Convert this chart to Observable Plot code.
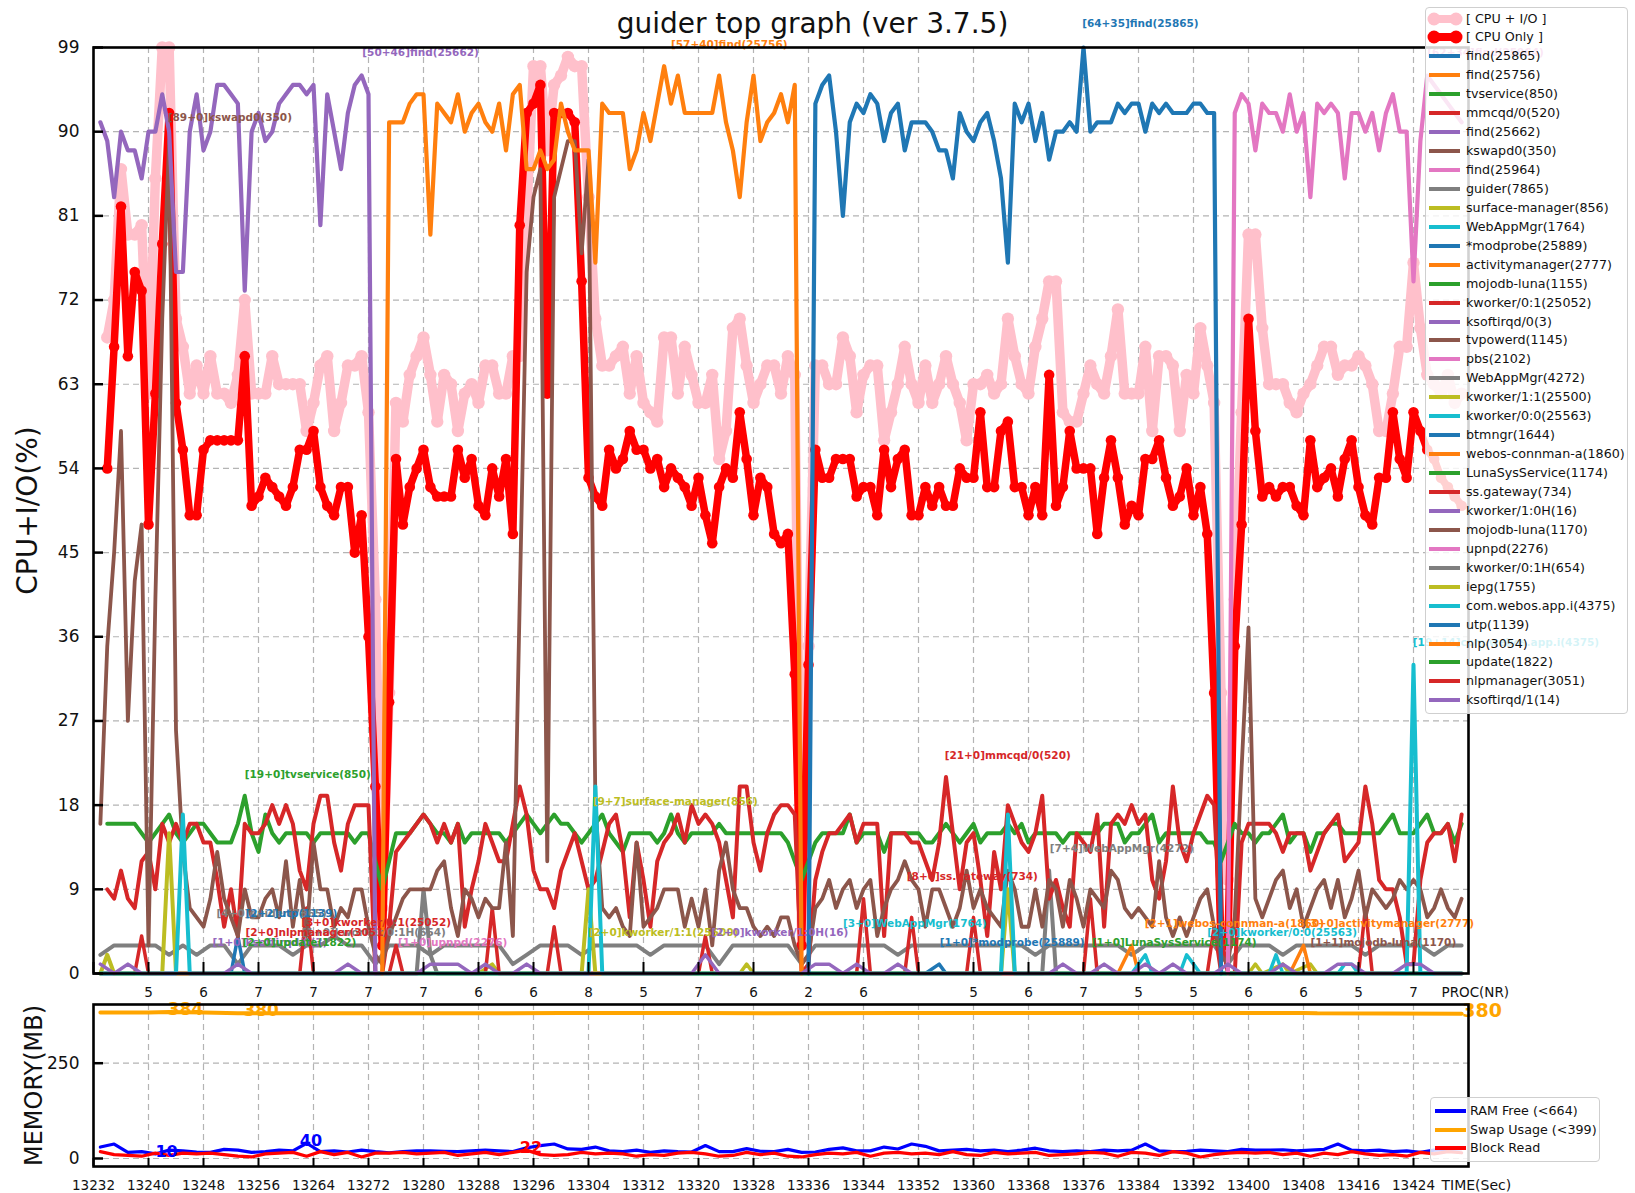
<!DOCTYPE html>
<html><head><meta charset="utf-8">
<script src="https://cdn.jsdelivr.net/npm/d3@7"></script>
<script src="https://cdn.jsdelivr.net/npm/@observablehq/plot@0.6"></script>
<style>
body{margin:0;background:#fff;font-family:"DejaVu Sans",sans-serif;}
#fig{position:relative;width:1635px;height:1193px;overflow:hidden;background:#fff;}
#fig svg.plotsvg{position:absolute;left:0;}
#title{position:absolute;left:0;width:1625px;top:10px;text-align:center;font-size:28px;line-height:28px;color:#111;}
.legend{position:absolute;background:rgba(255,255,255,0.82);border:1.5px solid #cfcfcf;border-radius:4px;box-sizing:border-box;}
.lrow{position:absolute;left:0;height:18px;font-size:12.7px;line-height:18px;color:#111;white-space:nowrap;}
.lrow svg{position:absolute;top:1px;}
.lrow span{position:absolute;}
</style></head>
<body><div id="fig"><div id="title">guider top graph (ver 3.7.5)</div></div>
<script>
// ---------------- DATA ----------------
const cpuStart = 13234; // 1-second samples
const cpuTotal = [
68,72,86,79,79,80,62,85,99,99, 70,67,62,65,62,66,62,62,61,64,
72,62,62,62,66,63,63,63,63,58, 61,65,66,58,61,65,65,66,60,40,
7,30,61,59,64,66,68,64,59,64, 63,58,62,63,61,65,65,62,62,66,
66,81,97,97,88,95,96,98,97,97, 83,70,65,65,66,67,62,66,61,60,
59,68,68,62,67,64,61,61,64,55, 58,69,70,65,61,63,65,65,62,66,
64,3,35,65,65,63,63,68,66,60, 64,65,65,57,60,63,67,63,61,65,
61,63,66,63,61,57,63,63,64,62, 63,70,66,63,62,67,70,74,74,60,
59,59,62,65,63,62,66,71,62,62, 62,67,58,66,66,65,58,64,62,69,
65,61,30,10,40,60,79,79,69,63, 63,63,61,60,62,63,65,67,67,64,
65,65,66,65,63,58,58,62,67,67, 76,69,64,63,62,64,61,62];
const cpuOnly = [
54,67,82,66,75,73,48,62,78,92, 61,56,49,49,56,57,57,57,57,57,
66,50,51,53,52,51,50,52,56,56, 58,52,50,49,52,52,45,49,36,20,
3,29,55,48,52,54,56,52,51,51, 51,56,53,55,50,49,54,51,55,47,
80,92,93,95,62,92,92,92,91,74, 53,51,50,56,54,55,58,56,56,54,
55,52,54,53,52,50,53,49,46,52, 54,53,60,55,49,53,52,47,46,47,
32,3,33,56,53,53,55,55,55,51, 52,52,49,56,52,55,56,49,49,52,
50,52,50,50,54,53,53,60,52,52, 58,59,52,52,49,52,49,64,50,52,
58,54,54,54,47,53,57,53,48,50, 49,55,55,57,53,50,51,54,49,52,
47,30,3,3,35,48,70,58,51,52, 51,52,52,50,49,57,52,53,54,51,
55,57,52,49,48,53,53,60,55,53, 60,58,56,55,53,52,51,50];

const find25662Start = 13233;
const find25662 = [91,89,83,90,88,88,85,90,90,94, 90,75,75,90,94,88,90,95,95,94,
93,73,90,92,89,90,93,94,95,95, 94,95,80,94,90,86,92,95,96,94, 0];
const find25756Start = 13274;
const find25756 = [0,91,91,91,93,94,94,79,93,92, 91,94,90,92,93,91,90,93,88,94,
95,86,86,88,86,87,93,90,88,88, 88,76,93,92,92,92,86,88,92,89,
93,97,93,96,92,92,92,92,92,96, 91,88,83,91,96,89,91,92,94,91, 95,0];
const find25865Start = 13336;
const find25865 = [0,93,95,96,90,81,91,93,92,94, 93,89,92,93,88,91,91,91,90,88,
88,85,92,90,89,91,92,89,85,76, 93,91,93,89,92,87,90,90,91,90,
99,90,91,91,91,93,92,93,93,90, 93,92,93,92,92,92,93,93,92,92, 0];
const find25964Start = 13397;
const find25964 = [0,92,94,93,88,93,92,92,90,94, 90,92,83,93,92,93,92,85,92,92,
90,92,88,92,94,90,90,74,89,96, 95,94,93,92,91];

const tvservice = [
16,16,16,16,16,15,14,15,16,17, 15,14,15,16,16,15,14,14,14,16,
19,15,13,17,15,14,15,15,15,15, 14,15,15,15,15,15,14,15,15,12,
9,12,15,15,15,16,17,16,15,15, 14,16,14,15,15,15,15,15,14,15,
16,17,16,15,16,17,16,16,15,14, 15,16,17,15,14,13,15,15,15,15,
14,15,17,15,14,15,15,15,15,16, 15,15,15,15,15,15,15,15,15,14,
12,10,12,14,15,15,15,15,17,14, 15,15,15,13,15,15,15,15,15,14,
14,15,16,15,14,15,16,14,15,15, 15,16,15,16,14,15,15,15,15,14,
15,15,15,15,15,16,16,16,14,15, 15,16,17,14,15,15,15,15,15,15,
14,14,12,14,16,15,15,14,15,15, 16,17,14,15,15,13,15,15,16,16,
15,15,15,15,15,15,16,17,15,15, 15,16,17,15,15,16,14,16];
const mmcqd = [
9,8,11,8,7,12,13,9,16,14, 16,14,16,16,14,14,10,5,9,4,
16,15,15,16,18,16,18,16,11,9, 16,19,19,14,11,16,18,18,18,0,
0,5,13,14,15,16,17,16,14,16, 14,16,5,9,12,16,14,12,12,16,
20,17,11,9,9,7,11,13,15,12, 9,10,13,16,17,13,6,14,10,5,
12,14,15,17,14,18,16,17,16,14, 10,6,20,20,14,11,15,17,18,18,
17,0,1,10,13,15,15,16,17,14, 16,16,16,4,15,15,15,14,14,12,
10,14,21,15,9,14,15,10,4,13, 9,18,16,14,13,15,19,8,10,7,
5,15,14,13,17,5,16,17,16,18, 16,17,10,8,12,20,14,12,15,17,
19,18,4,0,0,14,16,16,16,16, 15,13,15,15,15,11,13,15,16,17,
12,13,14,20,16,10,9,9,6,1, 1,10,14,15,15,16,12,17];
const kswapdStart = 13233;
const kswapd = [16,
35,45,58,27,42,48,3,40,70,89, 26,13,7,6,5,8,13,8,6,4,
9,6,6,8,9,6,12,5,10,4, 14,9,9,5,7,6,9,9,5,2,
1,4,6,8,9,9,9,9,11,12, 7,4,9,8,6,8,7,7,14,4,
40,75,83,86,12,83,86,89,89,77, 87,18,7,6,7,5,4,14,5,6,
7,9,9,9,5,8,5,9,3,11, 14,9,7,7,5,4,5,4,6,6,
3,1,2,7,8,10,7,9,10,7, 9,10,4,7,9,10,12,10,9,5,
9,9,7,5,7,11,7,9,7,6, 5,11,9,5,5,9,5,10,9,5,
10,8,5,9,8,7,11,10,7,6, 7,6,5,12,6,4,6,4,6,8,
9,5,2,1,6,22,37,8,6,8, 10,11,7,9,5,7,9,10,7,10,
6,8,11,6,9,8,7,8,10,9, 10,9,6,7,9,7,6,8];
const twoSecStart = 13233; // 2-second samples
const guider = [2,3,3,3,3,2,3,2,3,3, 1,3,3,3,2,3,3,4,3,3, 1,3,3,3,2,3,3,3,3,3,
1,2,3,3,3,2,3,3,3,3, 2,3,3,3,3,1,3,3,3,3, 3,1,3,3,3,3,3,3,2,3,
3,3,3,3,3,3,3,3,2,3, 3,3,3,3,3,2,3,3,3,3, 3,3,1,3,3,3,2,3,3,3,
3,3,2,3,3,3,3,2,3,3];
const ksoftirqd = [1,0,1,0,0,0,0,0,0,0, 1,0,0,0,0,0,0,0,1,0, 0,0,0,0,1,1,1,0,1,0,
0,1,0,0,0,0,0,0,0,0, 0,0,0,0,2,0,0,0,0,0, 0,0,1,1,0,1,0,0,1,0,
0,0,0,0,0,0,0,0,0,0, 1,0,0,1,0,0,1,0,1,0, 0,0,1,0,0,0,1,0,0,0,
1,1,0,0,0,1,1,0,0,0];
const surfaceManager = [[13233,0],[13234,2],[13235,0],[13242,0],[13243,15],[13244,0],[13303,0],[13304,9],[13305,0],[13364,0],[13365,9],[13366,0],[13431,0]];
const webAppMgr1764 = [[13233,0],[13244,0],[13245,17],[13246,0],[13304,0],[13305,20],[13306,0],[13364,0],[13365,17],[13366,0],[13431,0]];
const comWebosApp = [[13421,0],[13423,0],[13424,33],[13425,0],[13427,0]];
const kworker00 = [[13383,0],[13385,2],[13386,0],[13390,0],[13391,2],[13392,1],[13393,0],[13403,0],[13404,2],[13405,0],[13413,0],[13414,1],[13415,1],[13416,0]];
const webAppMgr4272 = [[13233,0],[13279,0],[13280,9],[13281,2],[13282,0],[13370,0],[13371,11],[13372,0],[13431,0]];
const ssGateway = [[13233,0],[13238,0],[13239,4],[13240,0],[13262,0],[13263,7],[13264,0],[13275,0],[13276,3],[13277,0],[13289,0],[13290,7],[13291,0],[13298,0],[13299,5],[13300,0],[13320,0],[13321,4],[13322,0],[13343,0],[13344,8],[13345,0],[13350,0],[13351,6],[13352,0],[13359,0],[13360,6],[13361,0],[13376,0],[13377,8],[13378,0],[13394,0],[13395,5],[13396,0],[13416,0],[13417,7],[13418,0],[13431,0]];
const utp = [[13251,0],[13252,0],[13253,4],[13254,0],[13256,0]];
const modprobe = [[13353,0],[13355,1],[13356,0]];
const connman = [[13381,0],[13383,3],[13384,0]];
const activityMgr = [[13406,0],[13408,3],[13409,0]];
const iepg = [[13288,0],[13290,1],[13291,0],[13326,0],[13327,1],[13328,0],[13400,0],[13401,1],[13402,0],[13405,1],[13406,0],[13409,1],[13410,0]];

const topLabels = [
 ["[89+0]kswapd0(350)",13242.8,91.5,"#8c564b"],
 ["[50+46]find(25662)",13271.1,98.4,"#9467bd"],
 ["[57+40]find(25756)",13316.0,99.3,"#ff7f0e"],
 ["[64+35]find(25865)",13375.8,101.6,"#1f77b4"],
 ["[62+34]find(25964)",13426.0,98.4,"#e377c2"],
 ["[19+0]tvservice(850)",13254.0,21.3,"#2ca02c"],
 ["[9+7]surface-manager(856)",13304.6,18.4,"#bcbd22"],
 ["[21+0]mmcqd/0(520)",13355.8,23.3,"#d62728"],
 ["[8+0]ss.gateway(734)",13350.3,10.4,"#d62728"],
 ["[7+4]WebAppMgr(4272)",13371.1,13.4,"#7f7f7f"],
 ["[3+0]WebAppMgr(1764)",13341.0,5.3,"#17becf"],
 ["[1+0]*modprobe(25889)",13355.1,3.35,"#1f77b4"],
 ["[1+0]LunaSysService(1174)",13377.2,3.35,"#2ca02c"],
 ["[2+1]webos-connman-a(1860)",13384.9,5.3,"#ff7f0e"],
 ["[3+0]activitymanager(2777)",13408.3,5.3,"#ff7f0e"],
 ["[2+0]kworker/0:0(25563)",13394.0,4.4,"#17becf"],
 ["[1+1]mojodb-luna(1170)",13409.0,3.35,"#8c564b"],
 ["[2+0]kworker/1:1(25500)",13304.0,4.4,"#bcbd22"],
 ["[2+0]kworker/1:0H(16)",13321.9,4.4,"#9467bd"],
 ["[19+14]com.webos.app.i(4375)",13423.9,35.4,"#17becf"],
 ["[4+0]guider(7865)",13249.9,6.4,"#7f7f7f"],
 ["[2+2]utp(1139)",13254.1,6.4,"#1f77b4"],
 ["[3+0]kworker/0:1(25052)",13262.2,5.4,"#d62728"],
 ["[1+0]kworker/0:1H(654)",13262.3,4.4,"#7f7f7f"],
 ["[2+0]nlpmanager(3051)",13254.1,4.4,"#d62728"],
 ["[1+0]ksoftirqd/0(3)",13249.3,3.35,"#9467bd"],
 ["[2+0]update(1822)",13253.7,3.35,"#2ca02c"],
 ["[1+0]upnpd(2276)",13276.3,3.35,"#e377c2"]
];

const xTicks = [13232,13240,13248,13256,13264,13272,13280,13288,13296,13304,13312,13320,13328,13336,13344,13352,13360,13368,13376,13384,13392,13400,13408,13416,13424];
const procTicks = [13240,13248,13256,13264,13272,13280,13288,13296,13304,13312,13320,13328,13336,13344,13352,13360,13368,13376,13384,13392,13400,13408,13416,13424];
const procNR = ["5","6","7","7","7","7","6","6","8","5","7","6","2","6","","5","6","7","5","5","6","6","5","7"];
const yTicksTop = [0,9,18,27,36,45,54,63,72,81,90,99];
const yTicksMem = [0,250];

// memory (2-second samples from 13233)
const ramFree = [30,38,16,18,12,22,20,17,16,24, 22,16,18,22,20,40,18,20,17,22,
18,15,18,20,20,19,18,20,22,20, 18,28,34,38,25,24,30,20,18,22,
16,20,18,17,34,18,18,26,19,18, 24,16,17,24,28,20,20,30,25,38,
32,20,22,24,20,22,18,22,27,20, 18,20,18,22,20,22,38,20,18,19,
22,20,18,24,22,22,23,20,22,24, 38,22,20,22,18,20,16,22,24,26];
const blockRead = [18,10,8,6,14,8,14,12,14,10, 6,4,12,14,16,6,18,10,16,4,
14,14,16,12,14,16,8,12,16,10, 16,22,10,8,10,16,12,14,12,6,
10,8,14,16,12,6,8,16,10,14, 6,4,10,14,12,16,6,14,16,12,
14,10,18,10,8,16,12,14,16,8, 10,12,16,14,6,16,14,8,18,14,
4,10,14,16,14,16,10,14,6,14, 10,18,12,8,10,6,16,12,18,15];
const swapUsage = [[13233,383],[13240,383],[13243,384],[13248,383],[13253,381],[13258,381],[13290,381],[13300,382],[13320,382],[13330,381],[13350,382],[13380,382],[13395,382],[13408,382],[13410,381],[13431,380]];
const memLabels = [
 ["384",13242.8,384,"#ffa500",17],
 ["380",13253.8,381,"#ffa500",17],
 ["380",13431.1,380,"#ffa500",19],
 ["10",13241.0,12,"#0000ff",16],
 ["40",13262.0,40,"#0000ff",16],
 ["22",13294.0,22,"#ff0000",16]
];

const legendNames = ["[ CPU + I/O ]","[ CPU Only ]","find(25865)","find(25756)","tvservice(850)","mmcqd/0(520)","find(25662)","kswapd0(350)","find(25964)","guider(7865)","surface-manager(856)","WebAppMgr(1764)","*modprobe(25889)","activitymanager(2777)","mojodb-luna(1155)","kworker/0:1(25052)","ksoftirqd/0(3)","tvpowerd(1145)","pbs(2102)","WebAppMgr(4272)","kworker/1:1(25500)","kworker/0:0(25563)","btmngr(1644)","webos-connman-a(1860)","LunaSysService(1174)","ss.gateway(734)","kworker/1:0H(16)","mojodb-luna(1170)","upnpd(2276)","kworker/0:1H(654)","iepg(1755)","com.webos.app.i(4375)","utp(1139)","nlp(3054)","update(1822)","nlpmanager(3051)","ksoftirqd/1(14)"];
const tab10 = ["#1f77b4","#ff7f0e","#2ca02c","#d62728","#9467bd","#8c564b","#e377c2","#7f7f7f","#bcbd22","#17becf"];
const memLegend = [["RAM Free (<664)","#0000ff"],["Swap Usage (<399)","#ffa500"],["Block Read","#ff0000"]];

// ---------------- HELPERS ----------------
const seq = (start, step, vals) => vals.map((v, i) => ({t: start + i * step, v}));
const pts = arr => arr.map(([t, v]) => ({t, v}));
const FONT = "DejaVu Sans";
const gridStyle = {stroke: "#b4b4b4", strokeDasharray: "6,4", strokeWidth: 1.2};
const procLine = (data, color, w = 4) => Plot.line(data, {x: "t", y: "v", stroke: color, strokeWidth: w});

// ---------------- TOP PLOT ----------------
const totalData = seq(cpuStart, 1, cpuTotal);
const onlyData = seq(cpuStart, 1, cpuOnly);
const topPlot = Plot.plot({
  width: 1635, height: 1000,
  marginTop: 47, marginBottom: 27, marginLeft: 93, marginRight: 167,
  x: {domain: [13232, 13432], axis: null},
  y: {domain: [0, 99], axis: null},
  color: {type: "identity"},
  style: {background: "transparent", overflow: "visible", fontFamily: FONT},
  marks: [
    Plot.ruleY(yTicksTop.slice(1, -1), gridStyle),
    Plot.ruleX(xTicks.slice(1), gridStyle),
    Plot.line(totalData, {x: "t", y: "v", stroke: "#ffc0cb", strokeWidth: 9.5}),
    Plot.dot(totalData, {x: "t", y: "v", r: 6.2, fill: "#ffc0cb"}),
    Plot.line(onlyData, {x: "t", y: "v", stroke: "#ff0000", strokeWidth: 7.5}),
    Plot.dot(onlyData, {x: "t", y: "v", r: 5.3, fill: "#ff0000"}),
    procLine(seq(twoSecStart, 2, guider), "#7f7f7f"),
    procLine(pts(webAppMgr4272), "#7f7f7f"),
    procLine(pts(iepg), "#bcbd22", 3.5),
    procLine(pts(ssGateway), "#d62728", 3.5),
    procLine(pts(utp), "#1f77b4", 3.5),
    procLine(pts(modprobe), "#1f77b4", 3.5),
    procLine(pts(connman), "#ff7f0e", 3.5),
    procLine(pts(activityMgr), "#ff7f0e", 3.5),
    procLine(pts(kworker00), "#17becf", 3.5),
    procLine(seq(cpuStart, 1, tvservice), "#2ca02c"),
    procLine(seq(cpuStart, 1, mmcqd), "#d62728"),
    procLine(seq(kswapdStart, 1, kswapd), "#8c564b", 3.8),
    procLine(pts(surfaceManager), "#bcbd22"),
    procLine(pts(webAppMgr1764), "#17becf"),
    procLine(pts(comWebosApp), "#17becf"),
    procLine(seq(find25662Start, 1, find25662), "#9467bd", 4.2),
    procLine(seq(find25756Start, 1, find25756), "#ff7f0e", 4.2),
    procLine(seq(find25865Start, 1, find25865), "#1f77b4", 4.2),
    procLine(seq(find25964Start, 1, find25964), "#e377c2", 4.2),
    procLine(seq(twoSecStart, 2, ksoftirqd), "#9467bd", 3.5),
    Plot.text(topLabels, {x: d => d[1], y: d => d[2], text: d => d[0], fill: d => d[3], textAnchor: "start", fontSize: 10.5, fontWeight: "bold"}),
    Plot.tickY(yTicksTop, {y: d => d, insetRight: 1365, stroke: "black", strokeWidth: 2.5}),
    Plot.tickX(xTicks, {x: d => d, insetTop: 915, stroke: "black", strokeWidth: 2}),
    Plot.frame({stroke: "black", strokeWidth: 2.6}),
    Plot.text(yTicksTop, {y: d => d, frameAnchor: "left", dx: -14, textAnchor: "end", text: d => String(d), fontSize: 17, fill: "#111"}),
    Plot.text(procTicks, {x: d => d, frameAnchor: "bottom", dy: 23, text: (d, i) => procNR[i], fontSize: 13.5, fill: "#111"}),
    Plot.text(["PROC(NR)"], {frameAnchor: "bottom-right", dx: -27, dy: 23, textAnchor: "start", text: d => d, fontSize: 13.5, fill: "#111"}),
    Plot.text(["CPU+I/O(%)"], {frameAnchor: "left", dx: -65, rotate: -90, textAnchor: "middle", text: d => d, fontSize: 28, fill: "#111"})
  ]
});
topPlot.classList.add("plotsvg");
topPlot.style.top = "0px";

// ---------------- MEMORY PLOT ----------------
const memPlot = Plot.plot({
  width: 1635, height: 213,
  marginTop: 24, marginBottom: 27, marginLeft: 93, marginRight: 167,
  x: {domain: [13232, 13432], axis: null},
  y: {domain: [-21, 404], axis: null},
  color: {type: "identity"},
  style: {background: "transparent", overflow: "visible", fontFamily: FONT},
  marks: [
    Plot.ruleY(yTicksMem, gridStyle),
    Plot.ruleX(xTicks.slice(1), gridStyle),
    Plot.line(pts(swapUsage), {x: "t", y: "v", stroke: "#ffa500", strokeWidth: 4}),
    Plot.line(seq(twoSecStart, 2, ramFree), {x: "t", y: "v", stroke: "#0000ff", strokeWidth: 3.2}),
    Plot.line(seq(twoSecStart, 2, blockRead), {x: "t", y: "v", stroke: "#ff0000", strokeWidth: 3.2}),
    Plot.text(memLabels, {x: d => d[1], y: d => d[2], text: d => d[0], fill: d => d[3], fontSize: d => d[4], textAnchor: "start", lineAnchor: "bottom", dy: 3, fontWeight: "bold"}),
    Plot.tickY(yTicksMem, {y: d => d, insetRight: 1365, stroke: "black", strokeWidth: 2.5}),
    Plot.tickX(xTicks, {x: d => d, insetTop: 154, stroke: "black", strokeWidth: 2}),
    Plot.frame({stroke: "black", strokeWidth: 2.6}),
    Plot.text(yTicksMem, {y: d => d, frameAnchor: "left", dx: -14, textAnchor: "end", text: d => String(d), fontSize: 17, fill: "#111"}),
    Plot.text(xTicks, {x: d => d, frameAnchor: "bottom", dy: 23, text: d => String(d), fontSize: 13.5, fill: "#111"}),
    Plot.text(["TIME(Sec)"], {frameAnchor: "bottom-right", dx: -27, dy: 23, textAnchor: "start", text: d => d, fontSize: 14, fill: "#111"}),
    Plot.text(["MEMORY(MB)"], {frameAnchor: "left", dx: -59, rotate: -90, textAnchor: "middle", text: d => d, fontSize: 24, fill: "#111"})
  ]
});
memPlot.classList.add("plotsvg");
memPlot.style.top = "980px";

const fig = document.getElementById("fig");
fig.appendChild(topPlot);
fig.appendChild(memPlot);

// ---------------- LEGENDS ----------------
function handle(color, kind) {
  const ns = "http://www.w3.org/2000/svg";
  const s = document.createElementNS(ns, "svg");
  s.setAttribute("width", 36); s.setAttribute("height", 16);
  const add = (tag, attrs) => { const e = document.createElementNS(ns, tag); for (const k in attrs) e.setAttribute(k, attrs[k]); s.appendChild(e); };
  if (kind === "big") {
    add("line", {x1: 6, y1: 8, x2: 30, y2: 8, stroke: color, "stroke-width": 8});
    add("circle", {cx: 7, cy: 8, r: 6.5, fill: color});
    add("circle", {cx: 29, cy: 8, r: 6.5, fill: color});
  } else {
    add("line", {x1: 2, y1: 8, x2: 33, y2: 8, stroke: color, "stroke-width": 4});
  }
  return s;
}
function buildLegend(left, top, w, h, rows, firstY, step, handleX, textX) {
  const box = document.createElement("div");
  box.className = "legend";
  Object.assign(box.style, {left: left + "px", top: top + "px", width: w + "px", height: h + "px"});
  rows.forEach(([name, color, kind], i) => {
    const r = document.createElement("div");
    r.className = "lrow";
    r.style.top = (firstY + i * step - 9) + "px";
    r.style.width = (w - 4) + "px";
    const hs = handle(color, kind);
    hs.style.left = handleX + "px";
    r.appendChild(hs);
    const sp = document.createElement("span");
    sp.textContent = name;
    sp.style.left = textX + "px";
    r.appendChild(sp);
    box.appendChild(r);
  });
  fig.appendChild(box);
}
const topRows = legendNames.map((n, i) => i === 0 ? [n, "#ffc0cb", "big"] : i === 1 ? [n, "#ff0000", "big"] : [n, tab10[(i - 2) % 10], "line"]);
buildLegend(1425, 7, 203, 707, topRows, 10.5, 18.94, 1, 40);
buildLegend(1430, 1097, 170, 65, memLegend.map(([n, c]) => [n, c, "line"]), 13, 18.6, 2, 39);
</script>
</body></html>
